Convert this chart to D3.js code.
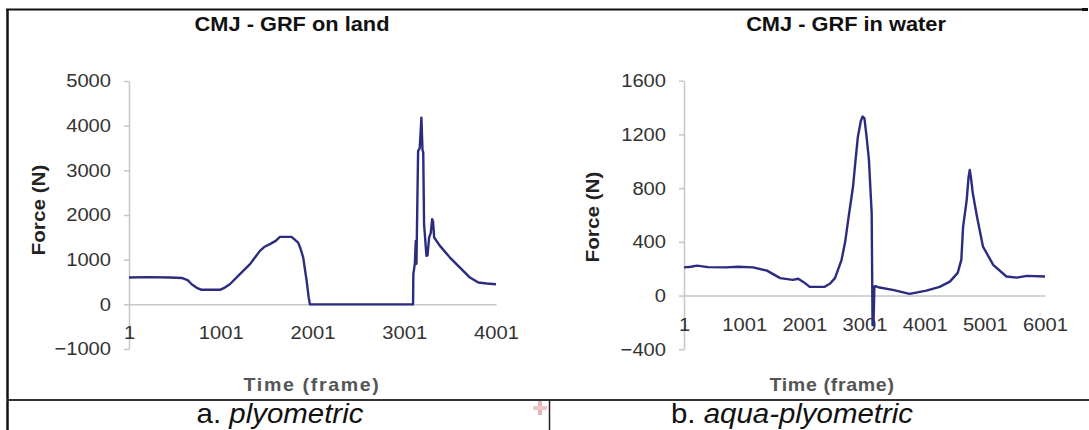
<!DOCTYPE html>
<html>
<head>
<meta charset="utf-8">
<script src="https://cdn.jsdelivr.net/npm/d3@7"></script>
<style>
  body { margin: 0; background: #fff; }
  svg { display: block; font-family: "Liberation Sans", Arial, sans-serif; }
</style>
</head>
<body>
<svg id="fig" width="1089" height="430"></svg>
<script>
/**
 * CMJ ground reaction force, land vs water.
 * Values (frames / newtons).
 */

// Panel a: on land
const landFrames = [1, 200, 450, 575, 640, 684, 740, 793, 993, 1050, 1100, 1210, 1320, 1428, 1480, 1537, 1600, 1646, 1773, 1845, 1870, 1900, 1937, 1960, 1973,
  3097, 3100, 3116, 3127, 3134, 3152, 3170, 3188, 3200, 3208, 3217, 3243, 3255, 3272, 3290, 3305, 3315, 3327, 3390, 3499, 3608, 3717, 3808, 3900, 4001];
const landForce = [600, 610, 600, 590, 540, 450, 370, 325, 325, 380, 450, 675, 900, 1197, 1290, 1347, 1420, 1510, 1510, 1383, 1250, 1047, 526, 150, 0,
  0, 675, 905, 1420, 905, 3430, 3500, 4180, 3450, 3400, 1795, 1085, 1100, 1495, 1600, 1906, 1850, 1495, 1309, 1047, 823, 600, 488, 465, 450];

// Panel b: in water
const waterFrames = [1, 120, 216, 400, 700, 900, 1150, 1380, 1600, 1810, 1900, 1990, 2090, 2340, 2430, 2510, 2620, 2680, 2730, 2810, 2850, 2890, 2940, 2970,
  3000, 3035, 3075, 3120, 3135, 3150, 3165, 3180, 3250, 3470, 3750, 4030, 4250, 4420, 4550, 4610, 4640, 4700, 4730, 4750, 4770, 4800, 4870, 4970, 5140,
  5360, 5530, 5700, 6001];
const waterForce = [210, 215, 223, 212, 210, 215, 210, 186, 130, 117, 125, 100, 65, 65, 90, 130, 266, 400, 564, 810, 1000, 1180, 1300, 1333,
  1320, 1185, 1010, 616, -220, -220, 67, 70, 60, 42, 13, 37, 65, 104, 169, 266, 514, 713, 880, 936, 880, 765, 589, 365, 229,
  142, 134, 147, 142];

// Axis ticks
const landForceTicks = [-1000, 0, 1000, 2000, 3000, 4000, 5000];
const waterForceTicks = [-400, 0, 400, 800, 1200, 1600];
const landFrameTicks = [1, 1001, 2001, 3001, 4001];
const waterFrameTicks = [1, 1001, 2001, 3001, 4001, 5001, 6001];

// Texts
const titles = ["CMJ - GRF on land", "CMJ - GRF in water"];
const captions = [["a. ", "plyometric"], ["b. ", "aqua-plyometric"]];
const yTitle = "Force (N)";
const xTitle = "Time (frame)";

const SX = 1.09; // the scan is a little wider than tall
const LINE = "#2b2c80";
const AXIS = "#c6c6c6";

const svg = d3.select("#fig");

// table rules of the original document
svg.append("line").attr("x1", 6).attr("x2", 1084).attr("y1", 9.5).attr("y2", 9.5)
  .attr("stroke", "#111").attr("stroke-width", 2);
svg.append("rect").attr("x", 1082).attr("y", 8).attr("width", 6).attr("height", 3).attr("fill", "#111");
svg.append("line").attr("x1", 7.5).attr("x2", 7.5).attr("y1", 9).attr("y2", 430)
  .attr("stroke", "#111").attr("stroke-width", 2.5);
svg.append("line").attr("x1", 7).attr("x2", 1089).attr("y1", 400).attr("y2", 400)
  .attr("stroke", "#333").attr("stroke-width", 2);
svg.append("line").attr("x1", 549.5).attr("x2", 549.5).attr("y1", 400).attr("y2", 430)
  .attr("stroke", "#222").attr("stroke-width", 1.5);

// faint red mark from the scan
svg.append("rect").attr("x", 538).attr("y", 401).attr("width", 4).attr("height", 14).attr("fill", "#eab3b3");
svg.append("rect").attr("x", 533).attr("y", 406).attr("width", 14).attr("height", 4).attr("fill", "#efc4c4");

function drawPanel(p) {
  const x = d3.scaleLinear().domain(p.xDomain).range(p.xRange);
  const y = d3.scaleLinear().domain(p.yDomain).range(p.yRange);
  const g = svg.append("g");

  // y axis
  const yAxis = g.append("g")
    .attr("transform", "translate(" + p.xRange[0] + ",0)")
    .call(d3.axisLeft(y).tickValues(p.yTicks).tickSize(5).tickSizeOuter(0).tickPadding(11.5)
      .tickFormat(d => d < 0 ? "\u2212" + Math.abs(d) : d));
  yAxis.select(".domain").attr("stroke", AXIS).attr("stroke-width", 1.5);
  yAxis.selectAll(".tick line").attr("stroke", AXIS).attr("stroke-width", 1.5);
  yAxis.selectAll("text").attr("font-size", "18.5px").attr("fill", "#333")
    .attr("font-family", "Liberation Sans, Arial, sans-serif")
    .attr("transform", "scale(" + SX + ",1)");

  // x axis on the zero line
  const xAxis = g.append("g")
    .attr("transform", "translate(0," + y(0) + ")")
    .call(d3.axisBottom(x).tickValues(p.xTicks).tickSize(0).tickPadding(22).tickFormat(d3.format("d")));
  xAxis.select(".domain").attr("stroke", AXIS).attr("stroke-width", 1.5);
  xAxis.selectAll("text").attr("font-size", "18.5px").attr("fill", "#333")
    .attr("font-family", "Liberation Sans, Arial, sans-serif")
    .attr("transform", "scale(" + SX + ",1)");

  // force trace
  const pts = p.frames.map((f, i) => [f, p.force[i]]);
  g.append("path")
    .attr("d", d3.line().x(d => x(d[0])).y(d => y(d[1]))(pts))
    .attr("fill", "none")
    .attr("stroke", LINE)
    .attr("stroke-width", 2.4)
    .attr("stroke-linejoin", "round");

  // title
  g.append("text")
    .attr("transform", "translate(" + p.titleX + ",31) scale(" + SX + ",1)")
    .attr("text-anchor", "middle")
    .attr("font-size", "20px").attr("font-weight", "bold").attr("fill", "#111")
    .text(p.title);

  // axis titles
  g.append("text")
    .attr("transform", "translate(" + p.yTitleX + "," + p.yTitleY + ") rotate(-90) scale(" + SX + ",1)")
    .attr("text-anchor", "middle").attr("dy", "0.35em")
    .attr("font-size", "19px").attr("font-weight", "bold").attr("fill", "#222")
    .text(yTitle);
  g.append("text")
    .attr("transform", "translate(" + p.xTitleX + ",391) scale(" + SX + ",1)")
    .attr("text-anchor", "middle")
    .attr("font-size", "18px").attr("font-weight", "bold").attr("fill", "#555")
    .attr("letter-spacing", p.xTitleSpacing + "px")
    .text(xTitle);

  // caption below
  const cap = g.append("text")
    .attr("transform", "translate(" + p.capX + ",423) scale(" + SX + ",1)")
    .attr("text-anchor", "middle")
    .attr("font-size", "27px").attr("fill", "#111");
  cap.append("tspan").text(p.caption[0]);
  cap.append("tspan").attr("font-style", "italic").text(p.caption[1]);
}

drawPanel({
  frames: landFrames, force: landForce,
  xDomain: [1, 4001], xRange: [129, 496],
  yDomain: [-1000, 5000], yRange: [349, 81],
  yTicks: landForceTicks, xTicks: landFrameTicks,
  title: titles[0], titleX: 292,
  yTitleX: 38, yTitleY: 210,
  xTitleX: 312, xTitleSpacing: 1.5,
  caption: captions[0], capX: 280
});

drawPanel({
  frames: waterFrames, force: waterForce,
  xDomain: [1, 6001], xRange: [684, 1045],
  yDomain: [-400, 1600], yRange: [349.3, 80.7],
  yTicks: waterForceTicks, xTicks: waterFrameTicks,
  title: titles[1], titleX: 846,
  yTitleX: 592, yTitleY: 217,
  xTitleX: 832, xTitleSpacing: 0.6,
  caption: captions[1], capX: 792
});
</script>
</body>
</html>
